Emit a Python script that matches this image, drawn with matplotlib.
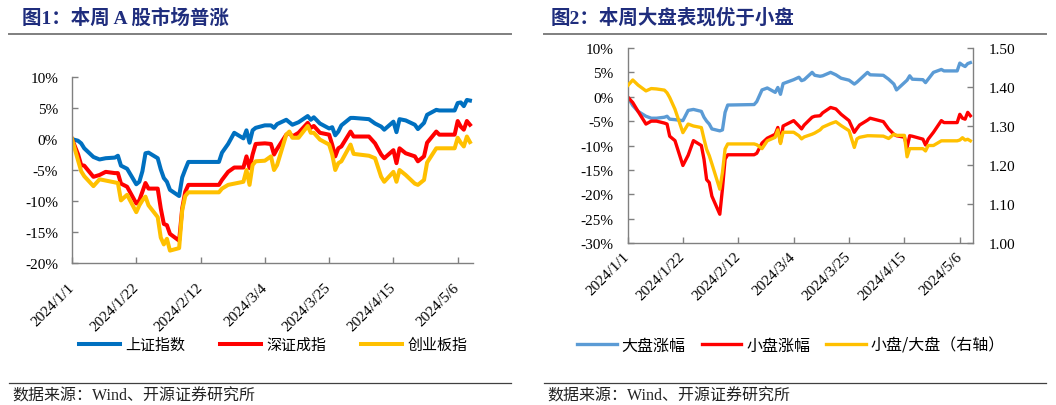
import matplotlib
matplotlib.use('Agg')
import matplotlib.pyplot as plt
from matplotlib.lines import Line2D
from matplotlib.font_manager import FontProperties
import numpy as np
import datetime

# ---------------- data: left panel (cumulative change, %) ----------------
left_dates = ['01-01', '01-03', '01-04', '01-05', '01-08', '01-10', '01-12', '01-15', '01-16', '01-17',
              '01-19', '01-22', '01-23', '01-24', '01-25', '01-26', '01-29', '01-30', '01-31',
              '02-01', '02-02', '02-05', '02-06', '02-07', '02-08', '02-18', '02-19', '02-21', '02-23',
              '02-26', '02-27', '02-28', '02-29',
              '03-01', '03-04', '03-06', '03-07', '03-08', '03-11', '03-12', '03-13', '03-15', '03-18',
              '03-19', '03-20', '03-22', '03-25', '03-26', '03-27', '03-28', '03-29',
              '04-01', '04-02', '04-07', '04-09', '04-11', '04-12', '04-15', '04-16', '04-17', '04-19',
              '04-22', '04-23', '04-25', '04-26', '04-29', '04-30',
              '05-05', '05-06', '05-07', '05-08', '05-09', '05-10']
sh_index = [0, -0.3, -0.7, -1.5, -2.9, -3.3, -3.1, -3.0, -2.7, -4.3, -4.8, -7.3, -6.9, -5.2, -2.3, -2.2, -3.1, -4.9, -6.3,
            -6.9, -8.2, -9.2, -6.2, -4.9, -3.7, -3.7, -2.2, -0.8, 1.0, 0.1, 1.4, -0.6, 1.4,
            1.8, 2.2, 2.2, 1.8, 2.4, 3.1, 2.7, 2.3, 2.7, 3.7, 3.1, 3.5, 2.5, 1.7, 1.9, 0.6, 1.2, 2.2,
            3.4, 3.4, 3.2, 2.5, 2.0, 1.5, 2.8, 1.1, 3.2, 3.0, 2.3, 1.6, 2.6, 3.9, 4.7, 4.6,
            4.6, 5.8, 5.9, 5.3, 6.3, 6.2]
sz_index = [0, -2.5, -4.2, -4.3, -6.1, -5.8, -5.3, -5.5, -5.5, -7.2, -7.7, -10.4, -9.9, -8.5, -7.1, -8.0, -8.0, -11.2, -13.7,
            -13.9, -15.3, -16.4, -11.2, -8.5, -7.4, -7.4, -6.6, -5.3, -4.6, -4.6, -2.8, -4.7, -2.5,
            -0.8, -0.7, -0.8, -2.5, -1.6, 0.7, 1.0, 0.4, 1.0, 2.6, 1.8, 2.1, 1.0, 0.7, -0.9, -2.8, -1.5, -1.2,
            1.2, 0.4, 0.4, -0.7, -2.5, -3.1, -1.8, -3.9, -1.5, -2.3, -2.8, -3.6, -2.8, -0.6, 1.2, 0.7,
            0.7, 2.9, 2.0, 1.5, 2.9, 2.3]
cyb_index = [0, -3.5, -5.2, -6.0, -7.6, -6.5, -6.7, -7.0, -7.1, -9.9, -9.0, -11.8, -10.7, -9.9, -9.3, -10.7, -12.6, -15.9, -17.0,
             -16.1, -18.0, -17.6, -11.5, -9.2, -8.6, -8.6, -8.0, -7.4, -7.2, -6.9, -5.0, -7.4, -4.2,
             -3.6, -3.5, -2.8, -5.0, -4.2, 0.7, 1.2, 0.2, 0.2, 2.1, 1.0, 1.0, -0.1, -0.9, -2.5, -5.0, -3.9, -3.6,
             -0.9, -2.4, -2.7, -3.1, -6.1, -6.9, -5.3, -6.9, -5.0, -5.8, -7.2, -7.4, -6.6, -3.8, -1.5, -1.5,
             -1.5, 0.2, -0.6, -1.2, 0.4, -0.5]
left_names = ['上证指数', '深证成指', '创业板指']

# ---------------- data: right panel ----------------
right_dates = ['01-01', '01-03', '01-05', '01-08', '01-10', '01-12', '01-15', '01-16', '01-17', '01-19',
               '01-22', '01-24', '01-26', '01-29', '01-30', '01-31',
               '02-01', '02-02', '02-05', '02-06', '02-07', '02-08', '02-18', '02-19', '02-21', '02-23',
               '02-26', '02-27', '02-28', '02-29',
               '03-04', '03-06', '03-07', '03-08', '03-11', '03-12', '03-14', '03-15', '03-18', '03-20',
               '03-22', '03-25', '03-27', '03-28', '03-29',
               '04-01', '04-02', '04-07', '04-09', '04-11', '04-12', '04-15', '04-16', '04-17', '04-18',
               '04-22', '04-23', '04-24', '04-26', '04-29', '04-30',
               '05-05', '05-06', '05-07', '05-08', '05-09', '05-10']
large_cap = [0, -1.8, -3.0, -4.0, -4.4, -4.4, -4.2, -4.0, -4.6, -4.7, -4.9, -2.8, -2.6, -3.0, -4.2, -5.0,
             -5.6, -6.6, -7.0, -6.8, -3.2, -1.7, -1.6, -1.0, 1.4, 1.8, 0.9, 1.9, 0.5, 2.7,
             3.5, 4.0, 3.3, 3.5, 5.0, 4.4, 4.2, 4.3, 5.0, 4.5, 3.8, 3.4, 2.6, 3.0, 3.5,
             5.0, 4.5, 4.4, 3.6, 2.6, 1.4, 2.9, 3.4, 4.3, 3.6, 3.5, 2.9, 3.6, 5.0, 5.6, 5.3,
             5.3, 6.9, 6.5, 6.2, 6.8, 7.0]
small_cap = [0, -1.2, -3.0, -5.6, -5.0, -5.0, -5.4, -5.6, -8.1, -9.0, -14.1, -12.0, -9.0, -10.0, -12.8, -17.0,
             -17.6, -20.4, -24.1, -18.9, -12.8, -11.9, -11.9, -11.6, -9.5, -8.5, -7.7, -6.3, -9.4, -6.0,
             -4.9, -6.0, -6.6, -5.8, -4.2, -4.0, -3.9, -3.3, -2.2, -2.5, -3.6, -4.9, -7.3, -6.5, -5.8,
             -4.8, -4.4, -5.1, -6.6, -7.7, -8.0, -8.3, -10.4, -8.0, -8.1, -8.7, -9.9, -8.7, -7.3, -4.9, -5.3,
             -5.3, -3.6, -4.4, -4.6, -3.2, -3.9]
small_large_ratio = [1.403, 1.418, 1.405, 1.390, 1.396, 1.395, 1.392, 1.385, 1.373, 1.343,
                     1.283, 1.305, 1.300, 1.296, 1.267, 1.240,
                     1.224, 1.203, 1.138, 1.181, 1.241, 1.254, 1.254, 1.252, 1.242, 1.262, 1.271, 1.290, 1.255, 1.284,
                     1.284, 1.275, 1.267, 1.272, 1.279, 1.282, 1.290, 1.297, 1.306, 1.311, 1.301, 1.288, 1.245, 1.267, 1.271,
                     1.275, 1.275, 1.274, 1.268, 1.279, 1.276, 1.276, 1.221, 1.242, 1.242, 1.242, 1.236, 1.250, 1.250, 1.262, 1.262,
                     1.262, 1.264, 1.270, 1.264, 1.266, 1.262]
right_names = ['大盘涨幅', '小盘涨幅', '小盘/大盘（右轴）']

titles = ['图1：本周 A 股市场普涨', '图2：本周大盘表现优于小盘']
source = '数据来源：Wind、开源证券研究所'


def to_dates(md):
    return np.array(['2024-' + s for s in md], dtype='datetime64[D]')


W, H = 1056, 406
SERIF = ['Liberation Serif', 'Noto Sans CJK SC']
CJK = ['Noto Sans CJK SC', 'DejaVu Sans']
plt.rcParams['font.family'] = SERIF

fig = plt.figure(figsize=(W / 100, H / 100), dpi=100)

start = datetime.date(2024, 1, 1)
end = datetime.date(2024, 5, 11)
xticks = [start + datetime.timedelta(days=21 * k) for k in range(7)]
xticklabels = ['%d/%d/%d' % (d.year, d.month, d.day) for d in xticks]
SPINE = '#808080'


def style_axes(ax, label_pad):
    ax.set_xlim(start, end)
    ax.set_xticks(xticks)
    ax.set_xticklabels(xticklabels, rotation=45, ha='right', va='center', rotation_mode='anchor')
    ax.tick_params(axis='x', direction='in', length=4, width=1, color=SPINE, pad=label_pad, labelsize=11)
    ax.tick_params(axis='y', direction='in', length=4, width=1, color=SPINE, pad=10, labelsize=11)
    for s in ['top', 'right']:
        ax.spines[s].set_visible(False)
    for s in ['left', 'bottom']:
        ax.spines[s].set_color(SPINE)
        ax.spines[s].set_linewidth(1)


def pct(v, pos):
    return '%d%%' % v


# ---------------- left panel ----------------
ax1 = fig.add_axes([72 / W, 1 - 264 / H, 401 / W, 186 / H])
d1 = to_dates(left_dates)
c_left = ['#0070C0', '#FF0000', '#FFC000']
lines1 = []
for vals, col, name in zip([sh_index, sz_index, cyb_index], c_left, left_names):
    ln, = ax1.plot(d1, vals, color=col, lw=2.9, label=name, solid_joinstyle='round')
    lines1.append(ln)
ax1.set_ylim(-20, 10)
ax1.set_yticks(np.arange(-20, 11, 5))
ax1.yaxis.set_major_formatter(plt.FuncFormatter(pct))
style_axes(ax1, 16)

ax1.legend(handles=lines1, loc='center', bbox_to_anchor=(273 / W, 1 - 346 / H),
           bbox_transform=fig.transFigure, ncol=3, frameon=False,
           handlelength=2.75, handletextpad=0.35, columnspacing=2.3,
           prop=FontProperties(family=CJK, size=10.8))

# ---------------- right panel ----------------
ax2 = fig.add_axes([627.5 / W, 1 - 244 / H, 345.5 / W, 195 / H])
ax2r = ax2.twinx()
d2 = to_dates(right_dates)
l_large, = ax2.plot(d2, large_cap, color='#5B9BD5', lw=2.4, label=right_names[0])
l_small, = ax2.plot(d2, small_cap, color='#FF0000', lw=2.4, label=right_names[1])
l_ratio, = ax2r.plot(d2, small_large_ratio, color='#FFC000', lw=2.4, label=right_names[2])
ax2.set_ylim(-30, 10)
ax2.set_yticks(np.arange(-30, 11, 5))
ax2.yaxis.set_major_formatter(plt.FuncFormatter(pct))
style_axes(ax2, 8)
ax2r.set_ylim(1.0, 1.5)
ax2r.set_yticks(np.arange(1.0, 1.51, 0.1))
ax2r.yaxis.set_major_formatter(plt.FuncFormatter(lambda v, p: '%.2f' % v))
ax2r.tick_params(axis='y', direction='in', length=4, width=1, color=SPINE, pad=11, labelsize=11)
for s in ['top', 'left', 'bottom']:
    ax2r.spines[s].set_visible(False)
ax2r.spines['right'].set_color(SPINE)
ax2r.spines['right'].set_linewidth(1)

ax2.legend(handles=[l_large, l_small, l_ratio], loc='center', bbox_to_anchor=(791 / W, 1 - 346 / H),
           bbox_transform=fig.transFigure, ncol=3, frameon=False,
           handlelength=2.5, handletextpad=0.3, columnspacing=1.0,
           prop=FontProperties(family=CJK, size=11.5))

# ---------------- titles, rules and source ----------------
for x0, x1, tx, title in [(9, 511, 22, titles[0]), (544, 1046, 551, titles[1])]:
    fig.add_artist(Line2D([x0 / W, x1 / W], [1 - 35 / H] * 2, color='#7f7f7f', lw=1.4))
    fig.add_artist(Line2D([x0 / W, x1 / W], [1 - 384 / H] * 2, color='#404040', lw=0.9))
    fig.text(tx / W, 1 - 18 / H, title, fontsize=14, fontweight='bold', color='#1f2d7d',
             va='center', ha='left', family=SERIF)
    fig.text((x0 + 3) / W, 1 - 397 / H, source, fontsize=11.5, va='center', ha='left',
             family=SERIF, color='#222222')

fig.savefig('out.png', dpi=100)
